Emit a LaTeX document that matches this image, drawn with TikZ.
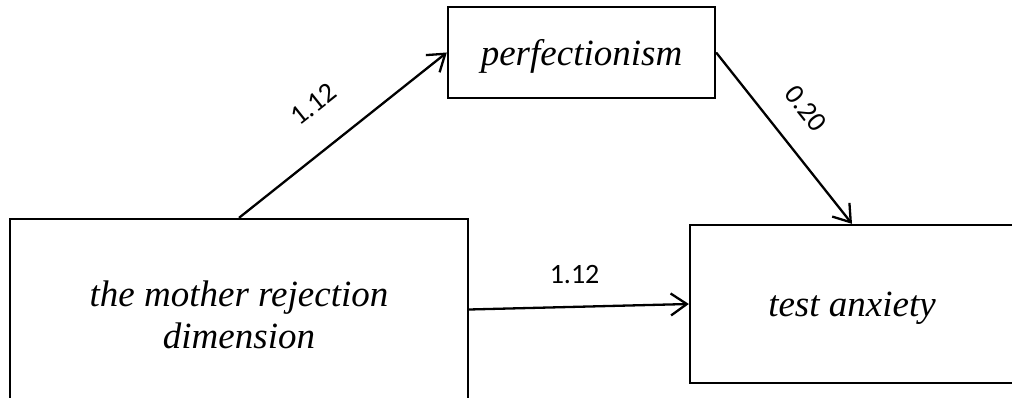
\documentclass[tikz,border=0pt]{standalone}
\usepackage{fontspec}
\setmainfont{Liberation Serif}
\newfontfamily\coeffont{Carlito}
\usetikzlibrary{arrows.meta}
\begin{document}
\begin{tikzpicture}[x=1pt,y=1pt,
        varbox/.style={draw,line width=2.3pt,inner sep=0pt,text depth=0pt,
            font=\fontsize{37}{42}\selectfont\itshape},
        effect/.style={line width=2.3pt,-{Straight Barb[length=16pt,width=22pt]}},
        coef/.style={inner sep=0pt,font=\coeffont\fontsize{28}{30}\selectfont}]
        \useasboundingbox (0,0) rectangle (1012,-398);
        	\node[varbox,minimum width=267pt,minimum height=91pt] (perf) at (581.5,-52.5) {perfectionism};
        	\node[varbox,minimum width=458pt,minimum height=191pt,align=center] (mother) at (239,-314.5) {the mother rejection\\dimension};
        	\node[varbox,minimum width=324pt,minimum height=158pt] (anx) at (852,-304) {test anxiety};
            \draw[effect] (mother.north) -- node[coef,pos=0.485,sloped,above=32pt] (amother) {1.12} (perf.west);
            \draw[effect] (perf.east) -- node[coef,pos=0.456,sloped,above=25pt] (bperf) {0.20} (anx.north);
            \draw[effect] ([yshift=5pt]mother.east) -- node[coef,pos=0.48,above=22pt] (cmother) {1.12} (anx.west);
        \end{tikzpicture}
\end{document}
